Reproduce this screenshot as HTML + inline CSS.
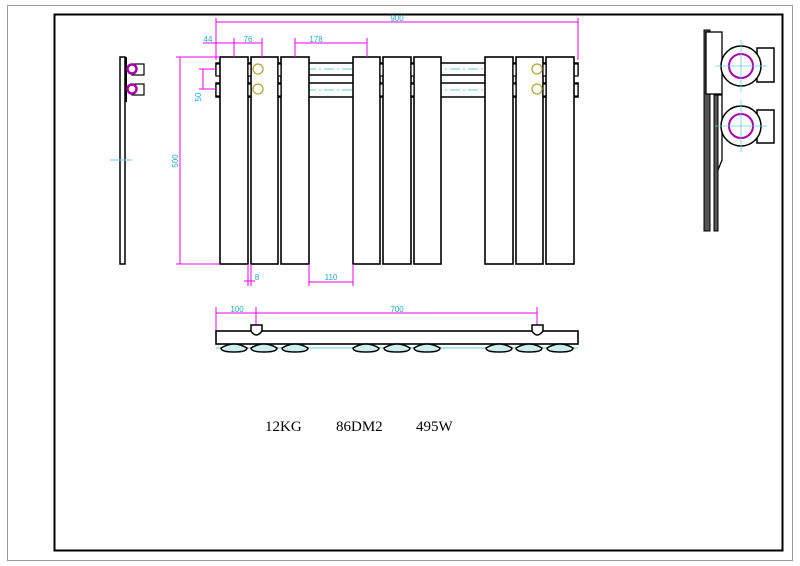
<!DOCTYPE html>
<html><head><meta charset="utf-8"><style>
html,body{margin:0;padding:0;background:#fff;}
svg{display:block;}
</style></head><body>
<svg width="800" height="566" viewBox="0 0 800 566" xmlns="http://www.w3.org/2000/svg" font-family="Liberation Sans, sans-serif">
<rect x="0" y="0" width="800" height="566" fill="#fff"/>
<rect x="7.5" y="5.5" width="785" height="555" fill="none" stroke="#999" stroke-width="1"/>
<rect x="54.5" y="14.5" width="728" height="536" fill="none" stroke="#000" stroke-width="2"/>

<!-- pipes -->
<g stroke="#000" stroke-width="1.5" fill="#fff">
<rect x="216" y="63" width="362" height="12"/>
<rect x="216" y="83" width="362" height="14"/>
</g>
<g stroke="#6cd" stroke-width="1" stroke-dasharray="10,3,2,3">
<line x1="216" y1="69" x2="578" y2="69"/>
<line x1="216" y1="90" x2="578" y2="90"/>
</g>
<!-- small connectors -->
<g stroke="#000" stroke-width="1.2" fill="#fff">
<rect x="216" y="64" width="5" height="12"/><rect x="216" y="84" width="5" height="12"/>
<rect x="573" y="64" width="5" height="12"/><rect x="573" y="84" width="5" height="12"/>
</g>
<!-- panels -->
<g stroke="#000" stroke-width="1.6" fill="#fff">
<rect x="220" y="57" width="28" height="207"/>
<rect x="251" y="57" width="27" height="207"/>
<rect x="281" y="57" width="28" height="207"/>
<rect x="353" y="57" width="27" height="207"/>
<rect x="383" y="57" width="28" height="207"/>
<rect x="414" y="57" width="27" height="207"/>
<rect x="485" y="57" width="28" height="207"/>
<rect x="516" y="57" width="27" height="207"/>
<rect x="546" y="57" width="28" height="207"/>
</g>
<g stroke="#000" stroke-width="1.2" fill="#fff">
<rect x="248" y="64" width="3" height="12"/><rect x="248" y="84" width="3" height="12"/>
<rect x="278" y="64" width="3" height="12"/><rect x="278" y="84" width="3" height="12"/>
<rect x="380" y="64" width="3" height="12"/><rect x="380" y="84" width="3" height="12"/>
<rect x="411" y="64" width="3" height="12"/><rect x="411" y="84" width="3" height="12"/>
<rect x="513" y="64" width="3" height="12"/><rect x="513" y="84" width="3" height="12"/>
<rect x="543" y="64" width="3" height="12"/><rect x="543" y="84" width="3" height="12"/>
</g>
<g stroke="#b9a23a" stroke-width="1.3" fill="none">
<circle cx="258" cy="69" r="5"/><circle cx="258" cy="89" r="5"/>
<circle cx="537" cy="69" r="5"/><circle cx="537" cy="89" r="5"/>
</g>

<!-- dimensions -->
<g stroke="#e0e" stroke-width="1" fill="none">
<line x1="216" y1="22" x2="578" y2="22"/><line x1="216" y1="18" x2="216" y2="60"/><line x1="578" y1="18" x2="578" y2="60"/>
<line x1="203" y1="43" x2="262" y2="43"/><line x1="234" y1="38" x2="234" y2="57"/><line x1="262" y1="38" x2="262" y2="57"/>
<line x1="295" y1="43" x2="367" y2="43"/><line x1="295" y1="38" x2="295" y2="57"/><line x1="367" y1="38" x2="367" y2="57"/>
<line x1="180" y1="57" x2="180" y2="264"/><line x1="176" y1="57" x2="220" y2="57"/><line x1="176" y1="264" x2="220" y2="264"/>
<line x1="203" y1="69" x2="203" y2="89"/><line x1="199" y1="69" x2="216" y2="69"/><line x1="199" y1="89" x2="216" y2="89"/>
<line x1="248" y1="264" x2="248" y2="286"/><line x1="251" y1="264" x2="251" y2="286"/><line x1="244" y1="281" x2="255" y2="281"/>
<line x1="309" y1="264" x2="309" y2="286"/><line x1="353" y1="264" x2="353" y2="286"/><line x1="309" y1="282" x2="353" y2="282"/>
<line x1="216" y1="313" x2="537" y2="313"/><line x1="216" y1="307" x2="216" y2="331"/><line x1="256" y1="307" x2="256" y2="326"/><line x1="537" y1="307" x2="537" y2="326"/>
</g>
<g fill="#2ac" font-size="8" text-anchor="middle">
<text x="397" y="21">900</text>
<text x="208" y="42">44</text>
<text x="248" y="42">76</text>
<text x="316" y="42">178</text>
<text x="331" y="280">110</text>
<text x="257" y="280">8</text>
<text x="237" y="312">100</text>
<text x="397" y="312">700</text>
<text x="178" y="161" transform="rotate(-90 178 161)">500</text>
<text x="201" y="97" transform="rotate(-90 201 97)">50</text>
</g>

<!-- left side view -->
<rect x="120" y="57" width="5" height="207" fill="#fff" stroke="#000" stroke-width="1.5"/>
<rect x="125" y="57" width="2" height="45" fill="#000"/>
<line x1="110" y1="160" x2="132" y2="160" stroke="#6cd" stroke-width="1"/>
<g stroke="#000" stroke-width="1.2" fill="#fff">
<rect x="132" y="64" width="12" height="11"/><rect x="132" y="84" width="12" height="11"/>
</g>
<g stroke="#a0a" stroke-width="2.5" fill="#fff">
<circle cx="132" cy="69" r="4.5"/><circle cx="132" cy="89" r="4.5"/>
</g>

<!-- right detail view -->
<rect x="704" y="30" width="6" height="201" fill="#555" stroke="#000"/>
<rect x="714" y="95" width="4" height="136" fill="#555" stroke="#000"/>
<rect x="706" y="32" width="16" height="62" fill="#fff" stroke="#000" stroke-width="1.3"/>
<path d="M718 95 L722 95 L722 160 L718 170" fill="none" stroke="#000" stroke-width="1.3"/>
<g stroke="#000" stroke-width="1.5" fill="#fff">
<rect x="757" y="48" width="17" height="34"/>
<rect x="757" y="110" width="17" height="33"/>
<circle cx="741" cy="66" r="20"/>
<circle cx="741" cy="126" r="20"/>
</g>
<g stroke="#a0a" stroke-width="2" fill="none">
<circle cx="741" cy="66" r="12"/><circle cx="741" cy="126" r="12"/>
</g>
<g stroke="#6cd" stroke-width="0.8">
<line x1="741" y1="40" x2="741" y2="92"/><line x1="715" y1="66" x2="767" y2="66"/>
<line x1="741" y1="100" x2="741" y2="152"/><line x1="715" y1="126" x2="767" y2="126"/>
</g>

<!-- top view -->
<line x1="216" y1="348" x2="578" y2="348" stroke="#6cd" stroke-width="1"/>
<rect x="216" y="331" width="362" height="13" fill="#fff" stroke="#000" stroke-width="1.6"/>
<g stroke="#000" stroke-width="1.5" fill="#fff">
<path d="M251 325 L262 325 L262 331 Q256 339 251 331 Z"/>
<path d="M532 325 L543 325 L543 331 Q537 339 532 331 Z"/>
</g>
<g stroke="#000" stroke-width="1.5" fill="#cee">
<path d="M221 348 Q234 340 247 348 Q247 352 234 352 Q221 352 221 348Z"/>
<path d="M251 348 Q264 340 277 348 Q277 352 264 352 Q251 352 251 348Z"/>
<path d="M282 348 Q295 340 308 348 Q308 352 295 352 Q282 352 282 348Z"/>
<path d="M353 348 Q366 340 379 348 Q379 352 366 352 Q353 352 353 348Z"/>
<path d="M384 348 Q397 340 410 348 Q410 352 397 352 Q384 352 384 348Z"/>
<path d="M414 348 Q427 340 440 348 Q440 352 427 352 Q414 352 414 348Z"/>
<path d="M486 348 Q499 340 512 348 Q512 352 499 352 Q486 352 486 348Z"/>
<path d="M516 348 Q529 340 542 348 Q542 352 529 352 Q516 352 516 348Z"/>
<path d="M547 348 Q560 340 573 348 Q573 352 560 352 Q547 352 547 348Z"/>
</g>

<g font-family="Liberation Serif, serif" font-size="15" fill="#000">
<text x="265" y="431">12KG</text>
<text x="336" y="431">86DM2</text>
<text x="416" y="431">495W</text>
</g>
</svg>
</body></html>
